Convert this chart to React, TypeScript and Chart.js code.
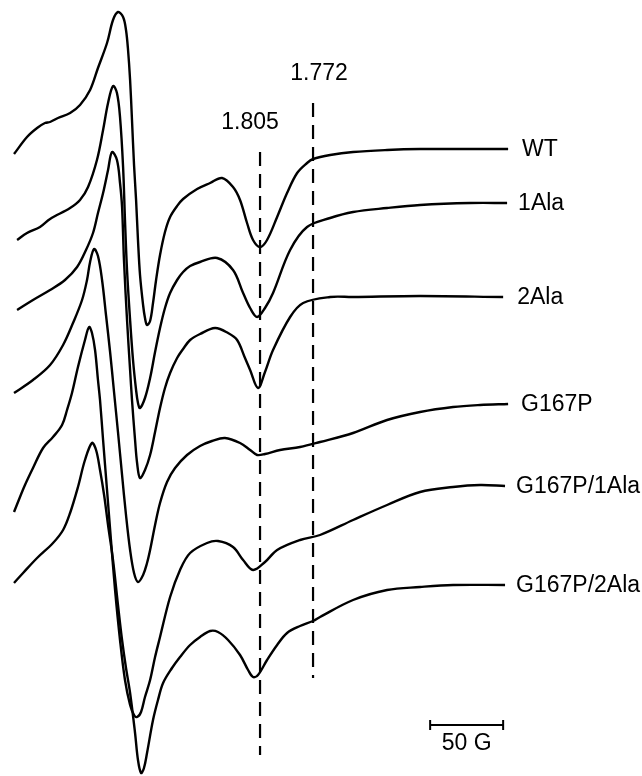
import React, { useEffect, useRef } from "react";
import { Chart, registerables } from "chart.js";

Chart.register(...registerables);

// Magnetic field (G, relative) vs first-derivative EPR signal (a.u.), one array per sample
const traceNames = ["WT", "1Ala", "2Ala", "G167P", "G167P/1Ala", "G167P/2Ala"];

// vertical stacking offsets of each spectrum (a.u.)
const traceOffsets = [627, 573, 479, 372, 290, 191];

const wtSpectrum: [number, number][] = [
  [0, -5], [8.9, 12], [15.8, 21], [21.2, 26], [24.7, 27], [30.1, 31], [38.4, 36], [45.2, 44],
  [52.1, 59], [57.5, 81], [63.7, 106], [67.8, 129], [71.2, 137], [74.7, 132], [76.7, 119],
  [78.1, 99], [79.5, 69], [80.8, 29], [82.2, -16], [83.6, -51], [84.9, -91], [86.3, -126],
  [88.4, -156], [89.7, -169], [91.1, -176], [93.2, -172], [95.2, -154], [97.3, -131],
  [100, -106], [103.4, -83], [106.9, -68], [111.7, -57], [115.8, -50], [125.4, -40],
  [134.3, -34], [142.5, -29], [150, -38], [154.8, -51], [159.6, -74], [163.7, -91], [168.5, -98],
  [173.3, -91], [180.2, -68], [187, -44], [193.9, -24], [200.7, -14], [204.8, -10],
  [216.5, -6], [232.2, -3], [255.5, -1], [278.1, 0], [300.7, 0], [324, 0], [338.4, 0],
];

const ala1Spectrum: [number, number][] = [
  [2.1, -37], [8.9, -30], [17.8, -24], [24.7, -16], [38.4, -5], [45.2, 3], [50.7, 16],
  [56.8, 43], [61, 73], [64.4, 100], [67.8, 117], [70.5, 110], [72.6, 86], [74.7, 36],
  [76, -17], [77.4, -67], [79.5, -117], [81.5, -157], [83.6, -187], [84.9, -200],
  [86.3, -205], [89.7, -195], [93.2, -175], [96.6, -149], [100, -125], [103.4, -105],
  [106.9, -90], [111.7, -77], [115.8, -69], [120.6, -63], [127.4, -59], [139.1, -55],
  [150, -67], [156.9, -90], [161.7, -105], [166.5, -114], [171.9, -105], [177.4, -90],
  [189.1, -47], [200.7, -24], [216.5, -15], [232.2, -9], [255.5, -5], [278.1, -2],
  [312.4, 0], [337.7, 0],
];

const ala2Spectrum: [number, number][] = [
  [2.1, -13], [13, -3], [24.7, 7], [34.9, 17], [43.2, 30], [49.3, 47], [54.1, 64],
  [57.5, 84], [61, 104], [64.4, 127], [67.1, 145], [70.5, 137], [72.6, 114], [74, 90],
  [75.3, 37], [77.4, -23], [79.5, -73], [80.8, -103], [82.9, -143], [84.3, -166],
  [86.3, -181], [89.7, -173], [93.2, -158], [96.6, -135], [100, -111], [103.4, -91],
  [106.9, -76], [111.7, -61], [115.8, -52], [120.6, -43], [127.4, -37], [137.7, -31],
  [146.6, -36], [152.8, -43], [158.2, -61], [161.7, -73], [167.1, -91], [171.9, -75],
  [177.4, -53], [189.1, -20], [198, -6], [216.5, 0], [232.2, 0], [278.1, 1], [335, 0],
];

const g167pSpectrum: [number, number][] = [
  [0, 11], [13, 24], [24.7, 39], [33.6, 59], [40.4, 81], [46.6, 104], [50, 124], [52.1, 142],
  [54.8, 155], [57.5, 148], [60.3, 124], [63, 89], [65.8, 52], [68.5, 12], [71.2, -28],
  [74, -71], [76.7, -111], [79.5, -146], [82.2, -169], [84.9, -178], [88.4, -171],
  [91.1, -159], [93.2, -146], [96.6, -121], [100, -99], [104.8, -78], [110.3, -64],
  [118.5, -51], [127.4, -42], [135.6, -37], [144.5, -34], [154.8, -39], [161.7, -46],
  [166.5, -51], [171.9, -50], [182.2, -46], [195.9, -43], [209.6, -38], [232.2, -29],
  [255.5, -16], [278.1, -8], [300.7, -3], [319.2, -1], [338.4, 0],
];

const g167pAla1Spectrum: [number, number][] = [
  [0, -26], [4.1, -11], [7.5, 1], [13, 18], [19.9, 38], [26.7, 49], [32.9, 61], [36.3, 76],
  [39.7, 93], [43.8, 119], [48.6, 146], [51.4, 159], [53.4, 153], [55.5, 136], [57.5, 106],
  [58.9, 86], [61, 46], [63.7, -4], [66.4, -54], [69.2, -104], [72.6, -154], [76, -194],
  [79.5, -219], [82.2, -229], [84.3, -231], [87, -226], [89.7, -211], [93.2, -194],
  [96.6, -171], [100, -151], [106.9, -111], [113.7, -84], [120.6, -67], [132.2, -57],
  [139.7, -55], [150, -61], [156.9, -74], [163.7, -84], [171.9, -76], [180.2, -64],
  [195.9, -54], [209.6, -49], [232.2, -34], [255.5, -19], [278.1, -6], [300.7, -1],
  [319.2, 1], [336.3, 0],
];

const g167pAla2Spectrum: [number, number][] = [
  [0, 2], [6.2, 12], [15.8, 27], [26.7, 42], [33.6, 55], [38.4, 72], [43.8, 98], [48.6, 125],
  [53.4, 142], [56.2, 135], [58.9, 115], [61.7, 90], [64.4, 60], [67.8, 25], [71.2, -20],
  [74, -55], [76.7, -83], [79.5, -108], [82.9, -148], [84.9, -175], [87, -188], [89, -183],
  [91.1, -168], [95.2, -135], [98.6, -115], [102.1, -98], [108.2, -83], [113.7, -72],
  [120.6, -60], [127.4, -52], [134.3, -46], [139.7, -47], [146.6, -55], [154.8, -70],
  [160.3, -85], [163.7, -92], [167.1, -90], [173.3, -75], [180.2, -60], [187, -48],
  [195.9, -41], [204.8, -36], [209.6, -32], [232.2, -15], [255.5, -5], [278.1, -2],
  [300.7, 0], [336.3, 0],
];

const spectra = [wtSpectrum, ala1Spectrum, ala2Spectrum, g167pSpectrum, g167pAla1Spectrum, g167pAla2Spectrum];

// g-value markers (dashed lines)
const gMarkerLabels = ["1.805", "1.772"];
const gMarkerField = [168.5, 204.8];
const gMarkerTop = [624, 673];
const gMarkerBottom = [21, 98];

// scale bar (G)
const scaleBarStart = 285;
const scaleBarEnd = 335;
const scaleBarLevel = 51;
const scaleBarLabel = "50 G";

const FONT = '23px "Liberation Sans", Arial, Helvetica, sans-serif';

const annotationPlugin = {
  id: "eprAnnotations",
  afterDatasetsDraw(chart: any) {
    const { ctx } = chart;
    const xs = chart.scales.x;
    const ys = chart.scales.y;
    ctx.save();
    ctx.fillStyle = "#000";
    ctx.strokeStyle = "#000";
    ctx.font = FONT;
    // trace names
    ctx.textAlign = "left";
    ctx.textBaseline = "middle";
    const gap = [14, 11, 14, 13, 11, 11];
    spectra.forEach((s, i) => {
      const last = s[s.length - 1];
      const px = xs.getPixelForValue(last[0]);
      const py = ys.getPixelForValue(traceOffsets[i] + last[1]);
      ctx.fillText(traceNames[i], px + gap[i], py + 1);
    });
    // g labels
    ctx.textAlign = "center";
    const dx = [-10, 6];
    gMarkerLabels.forEach((lab, i) => {
      const px = xs.getPixelForValue(gMarkerField[i]) + dx[i];
      const py = ys.getPixelForValue(gMarkerTop[i]) - 29;
      ctx.fillText(lab, px, py);
    });
    // scale bar
    const x0 = xs.getPixelForValue(scaleBarStart);
    const x1 = xs.getPixelForValue(scaleBarEnd);
    const yb = ys.getPixelForValue(scaleBarLevel);
    ctx.lineWidth = 2;
    ctx.beginPath();
    ctx.moveTo(x0, yb);
    ctx.lineTo(x1, yb);
    ctx.moveTo(x0, yb - 5);
    ctx.lineTo(x0, yb + 5);
    ctx.moveTo(x1, yb - 5);
    ctx.lineTo(x1, yb + 5);
    ctx.stroke();
    ctx.fillText(scaleBarLabel, (x0 + x1) / 2, yb + 19);
    ctx.restore();
  },
};

export default function App() {
  const canvasRef = useRef<HTMLCanvasElement | null>(null);

  useEffect(() => {
    const canvas = canvasRef.current;
    if (!canvas) return;
    const traceSets = spectra.map((s, i) => ({
      label: traceNames[i],
      data: s.map(([f, v]) => ({ x: f, y: traceOffsets[i] + v })),
      borderColor: "#000",
      borderWidth: 2.4,
      pointRadius: 0,
      showLine: true,
      fill: false,
      tension: 0.35,
      clip: false as any,
    }));
    const markerSets = gMarkerLabels.map((lab, i) => ({
      label: "g = " + lab,
      data: [
        { x: gMarkerField[i], y: gMarkerTop[i] },
        { x: gMarkerField[i], y: gMarkerBottom[i] },
      ],
      borderColor: "#000",
      borderWidth: 2.2,
      borderDash: [14, 8],
      pointRadius: 0,
      showLine: true,
      fill: false,
      clip: false as any,
    }));
    const chart = new Chart(canvas, {
      type: "scatter",
      data: { datasets: [...markerSets, ...traceSets] as any },
      options: {
        responsive: false,
        animation: false,
        devicePixelRatio: window.devicePixelRatio || 1,
        layout: { padding: 0 },
        plugins: { legend: { display: false }, tooltip: { enabled: false } },
        scales: {
          x: { type: "linear", min: -9.6, max: 430.1, display: false },
          y: { type: "linear", min: 0, max: 776, display: false },
        },
      },
      plugins: [annotationPlugin],
    });
    return () => chart.destroy();
  }, []);

  return (
    <div style={{ position: "absolute", left: 0, top: 0, width: 642, height: 776, background: "#fff" }}>
      <canvas ref={canvasRef} width={642} height={776} style={{ width: 642, height: 776, display: "block" }} />
    </div>
  );
}
